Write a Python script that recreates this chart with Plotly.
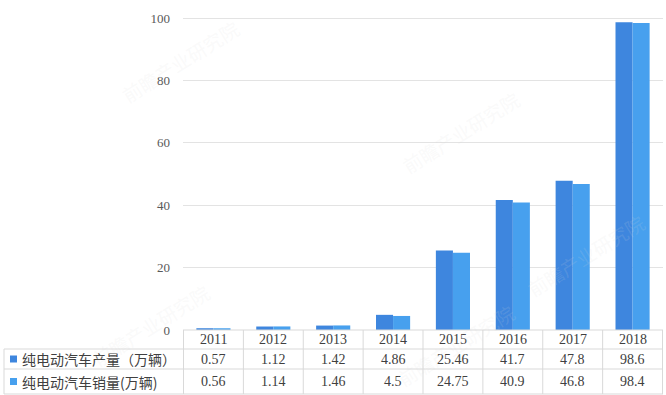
import plotly.graph_objects as go

years = ["2011", "2012", "2013", "2014", "2015", "2016", "2017", "2018"]
production = [0.57, 1.12, 1.42, 4.86, 25.46, 41.7, 47.8, 98.6]
sales = [0.56, 1.14, 1.46, 4.5, 24.75, 40.9, 46.8, 98.4]
production_text = ["0.57", "1.12", "1.42", "4.86", "25.46", "41.7", "47.8", "98.6"]
sales_text = ["0.56", "1.14", "1.46", "4.5", "24.75", "40.9", "46.8", "98.4"]
series_names = ["纯电动汽车产量（万辆）", "纯电动汽车销量(万辆)"]
colors = ["#3e86de", "#47a0ee"]
y_ticks = [0, 20, 40, 60, 80, 100]

W, H = 666, 395
def py(pix):  # pixel y from top -> paper
    return (H - pix) / H
def px(pix):
    return pix / W

x0_pix, x1_pix = 183, 663
y_bottom_pix, ymax = 330, 100.5
unit = 3.12
y_top_pix = y_bottom_pix - ymax * unit

fig = go.Figure()
for name, vals, col in zip(series_names, [production, sales], colors):
    fig.add_trace(go.Bar(x=years, y=vals, name=name, marker=dict(color=col, line=dict(width=0)),
                         showlegend=False, hoverinfo="x+y"))

serif = "Liberation Serif, Times New Roman, serif"
cjk = "Noto Sans CJK SC"
grid_col = "#d9d9d9"

shapes = []
annotations = []

row_lines = [330, 349, 369, 394]
shapes.append(dict(type="line", xref="paper", yref="paper", x0=px(x0_pix), x1=px(x1_pix),
                   y0=py(row_lines[0]), y1=py(row_lines[0]), line=dict(color=grid_col, width=1)))
for r in row_lines[1:]:
    shapes.append(dict(type="line", xref="paper", yref="paper", x0=px(4), x1=px(x1_pix),
                       y0=py(r), y1=py(r), line=dict(color=grid_col, width=1)))
shapes.append(dict(type="line", xref="paper", yref="paper", x0=px(4), x1=px(4),
                   y0=py(row_lines[1]), y1=py(row_lines[3]), line=dict(color=grid_col, width=1)))
for i in range(len(years) + 1):
    shapes.append(dict(type="line", xref="x", yref="paper", x0=i - 0.5, x1=i - 0.5,
                       y0=py(row_lines[0]), y1=py(row_lines[3]), line=dict(color=grid_col, width=1)))

row_centers = [339.5, 359, 381.5]
tfont = dict(family=serif, size=14, color="#404040")
for i, yr in enumerate(years):
    for rc, txt in zip(row_centers, [yr, production_text[i], sales_text[i]]):
        annotations.append(dict(x=i, xref="x", y=py(rc), yref="paper", text=txt,
                                xanchor="center", yanchor="middle", showarrow=False, font=tfont))

for k, (name, col) in enumerate(zip(series_names, colors)):
    yc = row_centers[k + 1]
    shapes.append(dict(type="rect", xref="paper", yref="paper", x0=px(10), x1=px(17),
                       y0=py(yc + 3.5), y1=py(yc - 3.5), fillcolor=col, line=dict(width=0)))
    annotations.append(dict(x=px(20), xref="paper", y=py(yc), yref="paper", text=name,
                            xanchor="left", yanchor="middle", showarrow=False,
                            font=dict(family=cjk, size=14, color="#404040")))

wm = [(180, 62), (460, 132), (585, 255), (150, 325), (455, 345)]
for (wx, wy) in wm:
    annotations.append(dict(x=px(wx), xref="paper", y=py(wy), yref="paper", text="前瞻产业研究院",
                            xanchor="center", yanchor="middle", showarrow=False, textangle=-32,
                            font=dict(family=cjk, size=19, color="rgba(215,215,215,0.15)")))

fig.update_layout(
    width=W, height=H, autosize=False,
    margin=dict(l=0, r=0, t=0, b=0, pad=0, autoexpand=False),
    paper_bgcolor="white", plot_bgcolor="white",
    barmode="group", bargap=0.43, bargroupgap=0,
    xaxis=dict(type="category", domain=[px(x0_pix), px(x1_pix)], showticklabels=False, ticks="",
               showgrid=False, showline=False, zeroline=False, fixedrange=True, automargin=False),
    yaxis=dict(domain=[py(y_bottom_pix), py(y_top_pix)], range=[0, ymax], automargin=False,
               tickvals=y_ticks, ticktext=[str(v) for v in y_ticks],
               showgrid=True, gridcolor="#e3e3e3", gridwidth=1,
               zeroline=False, showline=False, ticks="", ticklabelstandoff=12,
               tickfont=dict(family=serif, size=13, color="#595959")),
    shapes=shapes, annotations=annotations,
)
css_js = ("var s=document.createElement('style');"
          "s.textContent='html,body{margin:0;padding:0;overflow:hidden;}';"
          "document.head.appendChild(s);")
fig.write_html("out.html", config={"displayModeBar": False}, post_script=css_js)
